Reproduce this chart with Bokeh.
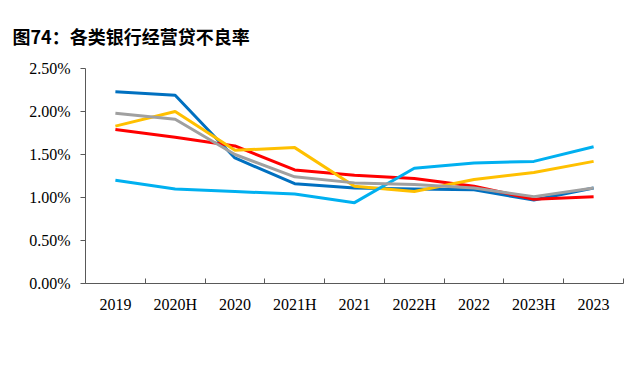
from bokeh.plotting import figure
from bokeh.models import (ColumnDataSource, Range1d, FixedTicker, PrintfTickFormatter,
                          Legend, LegendItem)
from bokeh.embed import file_html
from bokeh.resources import INLINE

categories = ["2019", "2020H", "2020", "2021H", "2021", "2022H", "2022", "2023H", "2023"]
state_owned = [2.23, 2.19, 1.46, 1.16, 1.11, 1.10, 1.09, 0.97, 1.11]
joint_stock = [1.79, 1.70, 1.60, 1.32, 1.26, 1.22, 1.13, 0.98, 1.01]
city_comm = [1.83, 2.00, 1.55, 1.58, 1.13, 1.07, 1.21, 1.29, 1.42]
rural_comm = [1.20, 1.10, 1.07, 1.04, 0.94, 1.34, 1.40, 1.42, 1.59]
overall = [1.98, 1.91, 1.50, 1.24, 1.17, 1.15, 1.11, 1.01, 1.11]
series_names = ["国有行", "股份行", "城商行", "农商行", "全部"]
y_ticks = [0.0, 0.5, 1.0, 1.5, 2.0, 2.5]

colors = ["#0070C0", "#FF0000", "#FFC000", "#00B0F0", "#A0A0A0"]

xs = list(range(len(categories)))
src = ColumnDataSource(dict(x=xs, s0=state_owned, s1=joint_stock, s2=city_comm,
                            s3=rural_comm, s4=overall))

p = figure(frame_width=538, frame_height=215, min_border_left=85, min_border_right=9,
           min_border_top=68, min_border_bottom=89,
           x_range=Range1d(-0.5, len(categories) - 0.5), y_range=Range1d(0, 2.5),
           output_backend="svg", toolbar_location=None,
           title="图74：各类银行经营贷不良率")
p.outline_line_color = None
p.xgrid.visible = False
p.ygrid.visible = False

p.title.text_font = "Noto Sans CJK SC"
p.title.text_font_size = "18px"
p.title.text_font_style = "bold"
p.title.text_color = "#000000"
p.title.align = "left"
p.title.offset = -73
p.title.standoff = 39

renderers = []
for i, name in enumerate(series_names):
    r = p.line("x", "s%d" % i, source=src, line_color=colors[i], line_width=3)
    renderers.append((name, [r]))

ax = p.xaxis[0]
ax.ticker = FixedTicker(ticks=xs, minor_ticks=[k - 0.5 for k in range(len(categories) + 1)])
ax.major_label_overrides = {k: c for k, c in zip(xs, categories)}
ax.major_tick_in = 0
ax.major_tick_out = 0
ax.minor_tick_in = 5
ax.minor_tick_out = 0
ax.axis_line_color = "#595959"
ax.minor_tick_line_color = "#595959"
ax.major_label_text_font = "Liberation Serif"
ax.major_label_text_font_size = "16px"
ax.major_label_text_color = "#000000"
ax.major_label_standoff = 12

ay = p.yaxis[0]
ay.ticker = FixedTicker(ticks=y_ticks)
ay.formatter = PrintfTickFormatter(format="%.2f%%")
ay.major_tick_in = 0
ay.major_tick_out = 5
ay.minor_tick_line_color = None
ay.axis_line_color = "#595959"
ay.major_tick_line_color = "#595959"
ay.major_label_text_font = "Liberation Serif"
ay.major_label_text_font_size = "16px"
ay.major_label_text_color = "#000000"
ay.major_label_standoff = 10

legend = Legend(items=[LegendItem(label=n, renderers=r) for n, r in renderers],
                orientation="horizontal", location="center")
legend.glyph_width = 42
legend.glyph_height = 10
legend.label_standoff = 6
legend.spacing = 22
legend.padding = 0
legend.margin = 14
legend.border_line_color = None
legend.background_fill_alpha = 0
legend.label_text_font = "Noto Sans CJK SC"
legend.label_text_font_size = "16px"
legend.label_text_color = "#222222"
p.add_layout(legend, "below")

open("out.html", "w").write(file_html(p, INLINE))
